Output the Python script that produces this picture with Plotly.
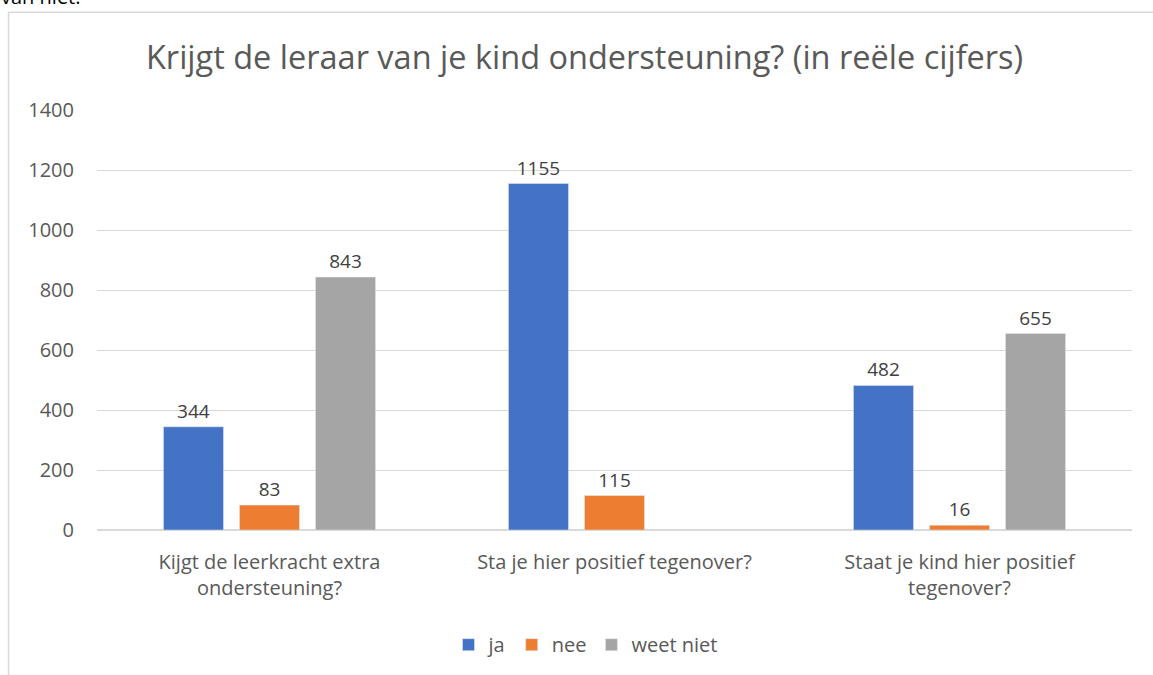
import plotly.graph_objects as go

categories = [
    "Kijgt de leerkracht extra<br>ondersteuning?",
    "Sta je hier positief tegenover?",
    "Staat je kind hier positief<br>tegenover?",
]
ja = [344, 1155, 482]
nee = [83, 115, 16]
weet_niet = [843, None, 655]

series = [("ja", ja, "#4472C4"), ("nee", nee, "#ED7D31"), ("weet niet", weet_niet, "#A5A5A5")]

FONT = "Open Sans"
TXT = "#595959"

fig = go.Figure()
for name, vals, col in series:
    fig.add_trace(go.Bar(
        x=categories, y=vals, name=name, marker_color=col,
        text=[("" if v is None else str(v)) for v in vals],
        textposition="outside", cliponaxis=False,
        textfont=dict(size=19, color="#404040", family=FONT),
    ))

fig.update_layout(
    width=1153, height=675,
    margin=dict(l=97, r=21, t=110, b=144),
    paper_bgcolor="white", plot_bgcolor="white",
    barmode="group", bargap=0.339, bargroupgap=0.21,
    font=dict(family=FONT, color=TXT),
    title=dict(text="Krijgt de leraar van je kind ondersteuning? (in reële cijfers)",
               x=0.507, xanchor="center", y=0.914, yanchor="middle",
               font=dict(size=32.5, color=TXT, family=FONT)),
    legend=dict(orientation="h", x=0.472, xanchor="center", y=-0.27, yanchor="middle",
                font=dict(size=20, color=TXT), itemwidth=30, traceorder="normal"),
    showlegend=True,
)
fig.update_yaxes(range=[0, 1400], dtick=200, showgrid=True, gridcolor="#d9d9d9", gridwidth=1,
                 zeroline=True, zerolinecolor="#d9d9d9", showline=False,
                 tickfont=dict(size=20, color=TXT), ticklabelstandoff=22)
fig.update_xaxes(showline=False, tickfont=dict(size=20, color=TXT), ticklabelstandoff=18)

# chart frame (partially visible)
fig.add_shape(type="line", xref="paper", yref="paper", x0=-0.0855, x1=-0.0855, y0=1.233, y1=-0.35,
              line=dict(color="#d9d9d9", width=1.5))
fig.add_shape(type="line", xref="paper", yref="paper", x0=-0.0855, x1=1.03, y0=1.233, y1=1.233,
              line=dict(color="#d9d9d9", width=1.5))
# cut-off text from page above the chart
fig.add_annotation(text="van niet.", xref="paper", yref="paper", x=-0.095, xanchor="left",
                   y=1.27, yanchor="middle", showarrow=False,
                   font=dict(size=20, color="#000000", family=FONT))

fig.write_html("out.html", config={"displayModeBar": False},
               post_script="document.body.style.margin='0';")
